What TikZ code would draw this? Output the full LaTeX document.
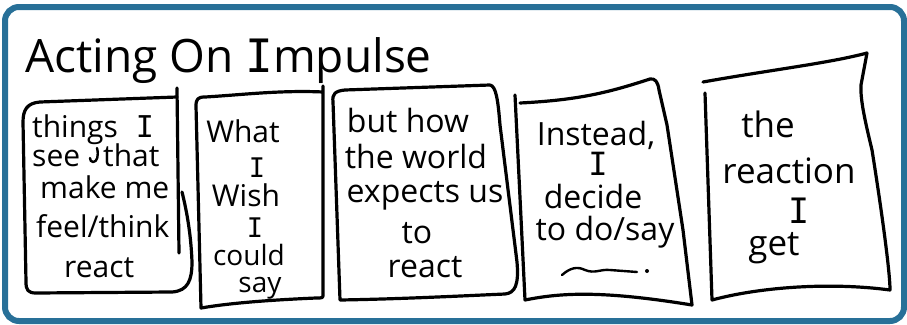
\documentclass[tikz,border=0pt]{standalone}
\usepackage{fontspec}
\setmainfont{Open Sans}
\newfontfamily\barfont{DejaVu Sans Mono}
\usetikzlibrary{positioning}

\definecolor{frameblue}{RGB}{40,112,152}
\newcommand{\PI}{{\barfont I}}

\tikzset{
  hand/.style={line width=3.2pt, line cap=round, line join=round},
  pen/.style={line width=2.4pt, line cap=round, line join=round},
  words/.style={font=\fontsize{#1}{#1}\selectfont, anchor=base, inner sep=0pt},
  words/.default=32,
}

\begin{document}
\begin{tikzpicture}[x=1pt, y=-1pt]
  \useasboundingbox (0,0) rectangle (907,324);
  % ---------- FRAME ----------
  \draw[frameblue, line width=6pt, rounded corners=14pt] (5,7) rectangle (904,321);
  \node[words=46, anchor=base west] (title) at (25,72) {Acting On {\barfont I}mpulse};

  % ---------- PANEL 1 ----------
  \draw[hand] (177,88) -- (179,253);
  \draw[hand] (177,97) -- (40,102) .. controls (27,103) and (23,110) .. (23,122)
    -- (26,282) .. controls (26,290) and (28,293) .. (36,293) -- (172,292)
    .. controls (188,291) and (192,280) .. (192,262)
    .. controls (191,235) and (187,212) .. (182,192);
  \node[words=30, anchor=base west] (things) at (32,137) {things\hspace{0.6em}\PI};
  \node[words=30, anchor=base west] (see) at (32,166) {see};
  \node[words=30, anchor=base west] (that) at (103,166) {that};
  \node[words=30, anchor=base west] (make) at (40,198) {make me};
  \node[words=30, anchor=base west] (feel) at (36,237) {feel/think};
  \node[words=30, anchor=base west] (react1) at (64,277) {react};
  \draw[pen] (97,148) .. controls (99,156) and (97,162) .. (93,162)
    .. controls (91,162) and (90,160) .. (90,158);

  % ---------- PANEL 2 ----------
  \draw[hand] (323,86) -- (323,294) .. controls (323,298) .. (316,298)
    .. controls (270,300) and (230,303) .. (201,308) -- (196,106)
    .. controls (196,99) and (198,97) .. (205,97)
    .. controls (240,95) and (280,90) .. (323,92);
  \node[words=30] (what) at (243,142) {What};
  \node[words=27] (i2a) at (257,177) {\PI};
  \node[words=30] (wish) at (246,206) {Wish};
  \node[words=27] (i2b) at (255,237) {\PI};
  \node[words=28] (could) at (249,265) {could};
  \node[words=28] (say) at (260,292) {say};

  % ---------- PANEL 3 ----------
  \draw[hand] (490,85) -- (345,90) .. controls (335,91) and (332,94) .. (333,102)
    -- (340,300) .. controls (400,299) and (460,296) .. (505,294)
    .. controls (515,293) and (519,285) .. (517,262) -- (500,125)
    .. controls (498,100) and (496,86) .. (490,85);
  \node[words] (but) at (408,132) {but how};
  \node[words] (world) at (416,168) {the world};
  \node[words] (expects) at (425,202) {expects us};
  \node[words] (to3) at (417,243) {to};
  \node[words] (react3) at (425,277) {react};

  % ---------- PANEL 4 ----------
  \draw[hand] (515,95) -- (525,300) .. controls (560,293) and (600,290) .. (692,305)
    -- (683,230) -- (667,125) -- (659,90) .. controls (658,82) and (655,78) .. (650,79)
    .. controls (610,92) and (580,100) .. (520,103);
  \node[words] (instead) at (596,145) {Instead,};
  \node[words] (i4) at (598,175) {\PI};
  \node[words] (decide) at (593,208) {decide};
  \node[words] (todo) at (605,240) {to do/say};
  \draw[pen] (562,275) .. controls (570,268) and (577,266) .. (585,270)
    .. controls (595,274) and (600,269) .. (610,270) -- (637,272);
  \fill (647,271) circle (2pt);

  % ---------- PANEL 5 ----------
  \draw[hand] (705,93) -- (712,300) .. controls (760,287) and (830,282) .. (890,290)
    .. controls (890,270) and (880,200) .. (872,150)
    .. controls (866,125) and (860,100) .. (861,85) -- (867,53)
    .. controls (830,63) and (770,70) .. (703,82);
  \node[words=35] (the) at (768,137) {the};
  \node[words=35] (reaction) at (789,183) {reaction};
  \node[words=35] (i5) at (799,223) {\PI};
  \node[words=35] (get) at (774,255) {get};
\end{tikzpicture}
\end{document}
